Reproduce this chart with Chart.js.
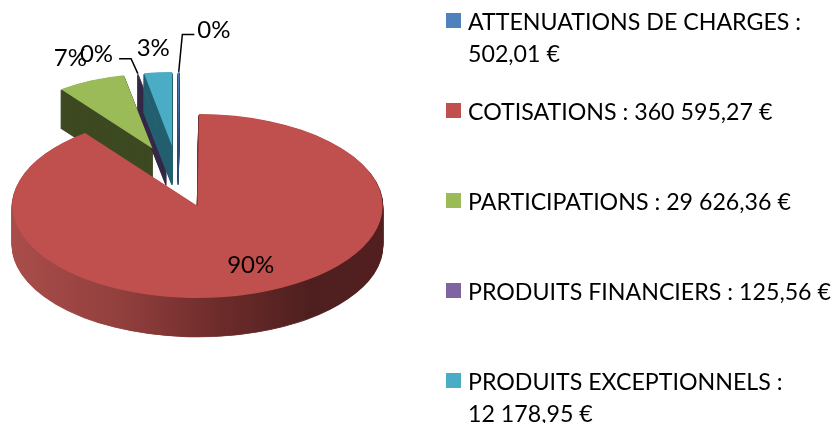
<!DOCTYPE html>
<html><head><meta charset="utf-8">
<script src="https://cdn.jsdelivr.net/npm/chart.js@4.4.0/dist/chart.umd.min.js"></script>
<style>
html,body{margin:0;padding:0;background:#fff;width:831px;height:423px;overflow:hidden;}
#wrap{position:relative;width:831px;height:423px;}
#c{position:absolute;left:0;top:0;}
#legend{position:absolute;left:446px;top:0;width:385px;font-family:Lato,sans-serif;color:#000;}
.item{position:absolute;left:0;width:385px;}
.sw{position:absolute;left:0;top:8.5px;width:15px;height:15px;}
.tx{position:absolute;left:22px;top:0;width:375px;line-height:32px;font-size:23.2px;white-space:normal;}
</style></head><body>
<div id="wrap"><canvas id="c" width="831" height="423"></canvas><div id="legend"></div></div>
<script>
// ---- data ----
const categories = ['ATTENUATIONS DE CHARGES', 'COTISATIONS', 'PARTICIPATIONS', 'PRODUITS FINANCIERS', 'PRODUITS EXCEPTIONNELS'];
const amounts = [502.01, 360595.27, 29626.36, 125.56, 12178.95];
const percentLabels = ['0%', '90%', '7%', '0%', '3%'];
const topColors = ['#4f81bd', '#c0504d', '#9bbb59', '#8064a2', '#4bacc6'];
const sideColors = ['#2c4d75', null, '#3e4a22', '#352947', '#24606f'];

// ---- view / layout ----
const VIEW = {cx: 177.9, cy: 176.7, squash: 0.497, explode: 62, depth: 39, persp: 0.1, radius: 186};
const LABEL_LAYOUT = [
  {r: 1.33, dx: 35, dy: -17, leader: 'left'},
  {r: 0.70, dx: 12, dy: -2},
  {r: 1.33, dx: 0, dy: 0},
  {r: 1.33, dx: -32, dy: 5, leader: 'right'},
  {r: 1.33, dx: 0, dy: 0}
];

function fmt(v) {
  const parts = v.toFixed(2).split('.');
  return parts[0].replace(/\B(?=(\d{3})+(?!\d))/g, '\u00a0') + ',' + parts[1] + '\u00a0€';
}

function midOf(el) { return (el.startAngle + el.endAngle) / 2; }
function perspOf(el) { return 1 - VIEW.persp * (1 - Math.sin(midOf(el))); }

function sliceFrame(ctx, el) {
  const mid = midOf(el), f = perspOf(el);
  ctx.translate(VIEW.cx, VIEW.cy);
  ctx.scale(1, VIEW.squash);
  ctx.translate(VIEW.explode * Math.cos(mid), VIEW.explode * Math.sin(mid));
  ctx.scale(f, f);
  ctx.translate(-el.x, -el.y);
}
function screenPoint(el, r, ang) {
  const mid = midOf(el), f = perspOf(el);
  return {
    x: VIEW.cx + VIEW.explode * Math.cos(mid) + f * r * Math.cos(ang),
    y: VIEW.cy + (VIEW.explode * Math.sin(mid) + f * r * Math.sin(ang)) * VIEW.squash
  };
}
function sideFill(ctx, el, i) {
  if (sideColors[i]) return sideColors[i];
  const R = el.outerRadius;
  const g = ctx.createLinearGradient(el.x - R, 0, el.x + R, 0);
  g.addColorStop(0, '#a94d4a');
  g.addColorStop(0.3, '#913f3d');
  g.addColorStop(0.55, '#6e2c2b');
  g.addColorStop(0.8, '#4f1f1f');
  g.addColorStop(1, '#521f1f');
  return g;
}

const pie3d = {
  id: 'pie3d',
  beforeDatasetsDraw(chart) {
    const ctx = chart.ctx;
    const els = chart.getDatasetMeta(0).data;
    const order = els.map((el, i) => i).sort((a, b) => midOf(els[a]) - midOf(els[b]));
    order.forEach(i => {
      const el = els[i];
      for (let d = VIEW.depth; d >= 1; d--) {
        ctx.save();
        ctx.translate(0, d);
        sliceFrame(ctx, el);
        const fill = sideFill(ctx, el, i);
        const proxy = Object.create(el);
        proxy.options = Object.assign({}, el.options, {backgroundColor: fill, borderColor: fill, borderWidth: 1.6});
        el.draw.call(proxy, ctx);
        ctx.restore();
      }
    });
    order.forEach(i => {
      const el = els[i];
      ctx.save();
      sliceFrame(ctx, el);
      el.draw(ctx);
      ctx.restore();
    });
    return false;
  },
  afterDraw(chart) {
    const ctx = chart.ctx;
    const els = chart.getDatasetMeta(0).data;
    ctx.save();
    ctx.font = '24px Lato';
    ctx.fillStyle = '#000';
    ctx.strokeStyle = '#000';
    ctx.lineWidth = 1.5;
    ctx.textAlign = 'center';
    ctx.textBaseline = 'middle';
    els.forEach((el, i) => {
      const L = LABEL_LAYOUT[i];
      const mid = midOf(el);
      const p = screenPoint(el, L.r * el.outerRadius, mid);
      const lx = p.x + L.dx, ly = p.y + L.dy;
      ctx.fillText(percentLabels[i], lx, ly);
      if (L.leader) {
        const w = ctx.measureText(percentLabels[i]).width;
        const edge = screenPoint(el, el.outerRadius, mid);
        const sx = L.leader === 'right' ? lx + w / 2 + 6 : lx - w / 2 - 3;
        const sy = ly + 4;
        const hx = L.leader === 'right' ? sx + 12 : sx - 12;
        ctx.beginPath();
        ctx.moveTo(sx, sy);
        ctx.lineTo(hx, sy);
        ctx.lineTo(edge.x, edge.y);
        ctx.stroke();
      }
    });
    ctx.restore();
  }
};

new Chart(document.getElementById('c'), {
  type: 'pie',
  data: {
    labels: categories,
    datasets: [{data: amounts, backgroundColor: topColors, borderWidth: 0, hoverOffset: 0, radius: VIEW.radius, clip: false}]
  },
  options: {
    responsive: false, animation: false, events: [],
    plugins: {legend: {display: false}, tooltip: {enabled: false}}
  },
  plugins: [pie3d]
});

// ---- legend ----
const legend = document.getElementById('legend');
categories.forEach((name, i) => {
  const item = document.createElement('div');
  item.className = 'item';
  item.style.top = (4.5 + 90 * i) + 'px';
  const sw = document.createElement('div');
  sw.className = 'sw';
  sw.style.background = topColors[i];
  const tx = document.createElement('div');
  tx.className = 'tx';
  tx.textContent = name + ' : ' + fmt(amounts[i]);
  item.appendChild(sw); item.appendChild(tx);
  legend.appendChild(item);
});
</script>
</body></html>
